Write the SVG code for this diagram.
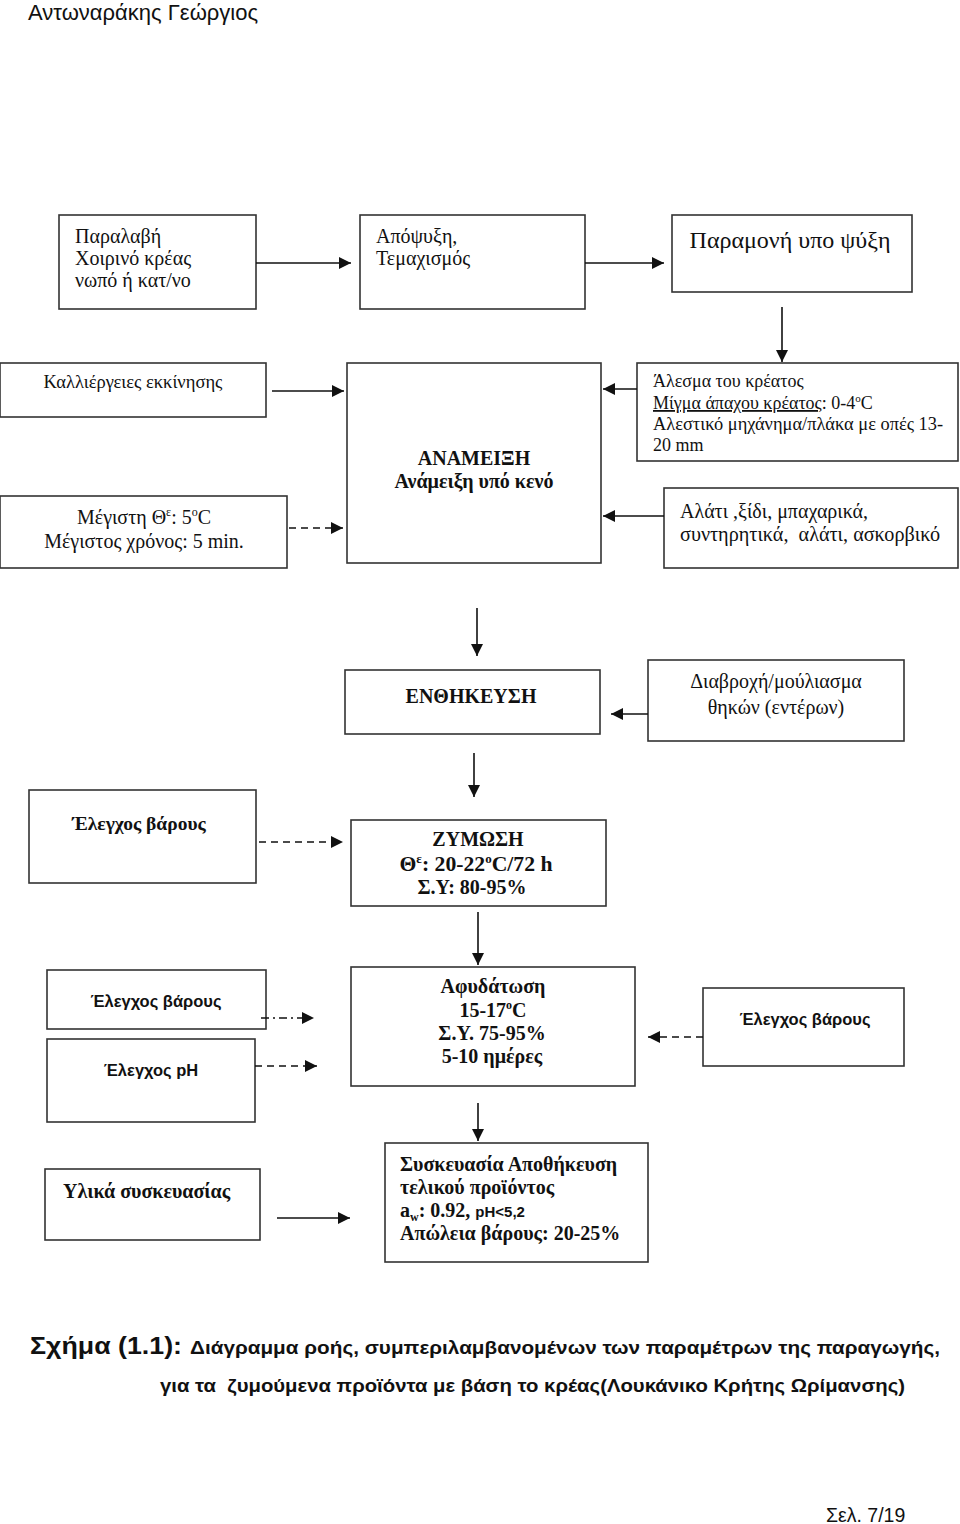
<svg xmlns="http://www.w3.org/2000/svg" width="960" height="1524" viewBox="0 0 960 1524">
<style>
.box{fill:#fff;stroke:#333;stroke-width:1.6}
.ln{stroke:#111;stroke-width:1.6;fill:none}
.dash{stroke-dasharray:7,5}
.dd{stroke-dasharray:8,4,2,4}
.s{font-family:"Liberation Serif","Noto Serif",serif;fill:#111}
.sb{font-family:"Liberation Serif",serif;font-weight:bold;fill:#111}
.a{font-family:"Liberation Sans",Arial,sans-serif;fill:#111}
.ab{font-family:"Liberation Sans",Arial,sans-serif;font-weight:bold;fill:#111}
.c{text-anchor:middle}
</style>
<defs>
<marker id="ah" markerUnits="userSpaceOnUse" markerWidth="13" markerHeight="12" refX="12" refY="6" orient="auto">
<path d="M0,0 L12,6 L0,12 z" fill="#111"/>
</marker>
</defs>
<rect width="960" height="1524" fill="#fff"/>
<text class="a" x="28" y="20" font-size="22">Αντωναράκης Γεώργιος</text>

<g id="n1"><rect class="box" x="59" y="215" width="197" height="94"/>
<text class="s" font-size="20" x="75" y="243">Παραλαβή</text>
<text class="s" font-size="20" x="75" y="265">Χοιρινό κρέας</text>
<text class="s" font-size="20" x="75" y="287">νωπό ή κατ/νο</text></g>

<g id="n2"><rect class="box" x="360" y="215" width="225" height="94"/>
<text class="s" font-size="20" x="376" y="243">Απόψυξη,</text>
<text class="s" font-size="20" x="376" y="265">Τεμαχισμός</text></g>

<g id="n3"><rect class="box" x="672" y="215" width="240" height="77"/>
<text class="s c" font-size="24" x="790" y="248">Παραμονή υπο ψύξη</text></g>

<g id="n4"><rect class="box" x="0" y="363" width="266" height="54"/>
<text class="s c" font-size="18.5" x="133" y="388">Καλλιέργειες εκκίνησης</text></g>

<g id="n5"><rect class="box" x="0" y="496" width="287" height="72"/>
<text class="s c" font-size="20" x="144" y="524">Μέγιστη Θ<tspan font-size="12" dy="-8">ε</tspan><tspan dy="8">: 5</tspan><tspan font-size="12" dy="-8">ο</tspan><tspan dy="8">C</tspan></text>
<text class="s c" font-size="20" x="144" y="548">Μέγιστος χρόνος: 5 min.</text></g>

<g id="n6"><rect class="box" x="347" y="363" width="254" height="200"/>
<text class="sb c" font-size="20" x="474" y="465">ΑΝΑΜΕΙΞΗ</text>
<text class="sb c" font-size="20" x="474" y="488">Ανάμειξη υπό κενό</text></g>

<g id="n7"><rect class="box" x="637" y="363" width="321" height="98"/>
<text class="s" font-size="18" x="653" y="387">Άλεσμα του κρέατος</text>
<text class="s" font-size="18" x="653" y="409"><tspan text-decoration="underline">Μίγμα άπαχου κρέατος</tspan>: 0-4<tspan font-size="11" dy="-7">ο</tspan><tspan dy="7">C</tspan></text>
<text class="s" font-size="18" x="653" y="430" textLength="290" lengthAdjust="spacingAndGlyphs">Αλεστικό μηχάνημα/πλάκα με οπές 13-</text>
<text class="s" font-size="18" x="653" y="451">20 mm</text></g>

<g id="n8"><rect class="box" x="664" y="488" width="294" height="80"/>
<text class="s" font-size="20" x="680" y="518">Αλάτι ,ξίδι, μπαχαρικά,</text>
<text class="s" font-size="20" x="680" y="541" xml:space="preserve" textLength="260" lengthAdjust="spacingAndGlyphs">συντηρητικά,  αλάτι, ασκορβικό</text></g>

<g id="n9"><rect class="box" x="345" y="670" width="255" height="64"/>
<text class="sb c" font-size="20" x="471" y="703">ΕΝΘΗΚΕΥΣΗ</text></g>

<g id="n10"><rect class="box" x="648" y="660" width="256" height="81"/>
<text class="s c" font-size="20" x="776" y="688">Διαβροχή/μούλιασμα</text>
<text class="s c" font-size="20" x="776" y="714">θηκών (εντέρων)</text></g>

<g id="n11"><rect class="box" x="29" y="790" width="227" height="93"/>
<text class="sb c" font-size="19.5" x="139" y="830">Έλεγχος βάρους</text></g>

<g id="n12"><rect class="box" x="351" y="820" width="255" height="86"/>
<text class="sb c" font-size="20" x="478" y="846">ΖΥΜΩΣΗ</text>
<text class="sb c" font-size="20" x="476" y="871" textLength="153" lengthAdjust="spacingAndGlyphs">Θ<tspan font-size="12" dy="-8">ε</tspan><tspan dy="8">: 20-22</tspan><tspan font-size="12" dy="-8">ο</tspan><tspan dy="8">C/72 h</tspan></text>
<text class="sb c" font-size="20" x="472" y="894">Σ.Υ: 80-95%</text></g>

<g id="n13"><rect class="box" x="47" y="970" width="219" height="59"/>
<text class="ab c" font-size="16.5" x="156" y="1007">Έλεγχος βάρους</text></g>

<g id="n14"><rect class="box" x="47" y="1039" width="208" height="83"/>
<text class="ab c" font-size="16.5" x="151" y="1076">Έλεγχος pH</text></g>

<g id="n15"><rect class="box" x="351" y="967" width="284" height="119"/>
<text class="sb c" font-size="20" x="493" y="993">Αφυδάτωση</text>
<text class="sb c" font-size="20" x="493" y="1017">15-17<tspan font-size="12" dy="-8">ο</tspan><tspan dy="8">C</tspan></text>
<text class="sb c" font-size="20" x="492" y="1040">Σ.Υ. 75-95%</text>
<text class="sb c" font-size="20" x="492" y="1063">5-10 ημέρες</text></g>

<g id="n16"><rect class="box" x="703" y="988" width="201" height="78"/>
<text class="ab c" font-size="16.5" x="805" y="1025">Έλεγχος βάρους</text></g>

<g id="n17"><rect class="box" x="45" y="1169" width="215" height="71"/>
<text class="sb" font-size="20" x="63" y="1198">Υλικά συσκευασίας</text></g>

<g id="n18"><rect class="box" x="385" y="1143" width="263" height="119"/>
<text class="sb" font-size="20" x="400" y="1171">Συσκευασία Αποθήκευση</text>
<text class="sb" font-size="20" x="400" y="1194">τελικού προϊόντος</text>
<text class="sb" font-size="20" x="400" y="1217">a<tspan font-size="12" dy="4">w</tspan><tspan dy="-4">: 0.92, </tspan><tspan class="ab" font-size="15">pH&lt;5,2</tspan></text>
<text class="sb" font-size="20" x="400" y="1240">Απώλεια βάρους: 20-25%</text></g>

<g id="connectors">
<line class="ln" x1="256" y1="263" x2="351" y2="263" marker-end="url(#ah)"/>
<line class="ln" x1="585" y1="263" x2="664" y2="263" marker-end="url(#ah)"/>
<line class="ln" x1="782" y1="307" x2="782" y2="362" marker-end="url(#ah)"/>
<line class="ln" x1="272" y1="391" x2="344" y2="391" marker-end="url(#ah)"/>
<line class="ln dash" x1="289" y1="528" x2="343" y2="528" marker-end="url(#ah)"/>
<line class="ln" x1="637" y1="389" x2="603" y2="389" marker-end="url(#ah)"/>
<line class="ln" x1="664" y1="516" x2="603" y2="516" marker-end="url(#ah)"/>
<line class="ln" x1="477" y1="608" x2="477" y2="656" marker-end="url(#ah)"/>
<line class="ln" x1="648" y1="714" x2="611" y2="714" marker-end="url(#ah)"/>
<line class="ln" x1="474" y1="753" x2="474" y2="797" marker-end="url(#ah)"/>
<line class="ln dash" x1="259" y1="842" x2="343" y2="842" marker-end="url(#ah)"/>
<line class="ln" x1="478" y1="912" x2="478" y2="965" marker-end="url(#ah)"/>
<line class="ln dd" x1="261" y1="1018" x2="314" y2="1018" marker-end="url(#ah)"/>
<line class="ln dash" x1="255" y1="1066" x2="317" y2="1066" marker-end="url(#ah)"/>
<line class="ln dash" x1="703" y1="1037" x2="648" y2="1037" marker-end="url(#ah)"/>
<line class="ln" x1="478" y1="1103" x2="478" y2="1141" marker-end="url(#ah)"/>
<line class="ln" x1="277" y1="1218" x2="350" y2="1218" marker-end="url(#ah)"/>
</g>

<text class="ab" font-size="23" x="30" y="1354" textLength="152" lengthAdjust="spacingAndGlyphs">Σχήμα (1.1):</text>
<text class="ab" font-size="18" x="190" y="1354" textLength="750" lengthAdjust="spacingAndGlyphs">Διάγραμμα ροής, συμπεριλαμβανομένων των παραμέτρων της παραγωγής,</text>
<text class="ab" font-size="18" x="160" y="1392" textLength="745" lengthAdjust="spacingAndGlyphs" xml:space="preserve">για τα  ζυμούμενα προϊόντα με βάση το κρέας(Λουκάνικο Κρήτης Ωρίμανσης)</text>
<text class="a" font-size="19.5" x="826" y="1522">Σελ. 7/19</text>
</svg>
